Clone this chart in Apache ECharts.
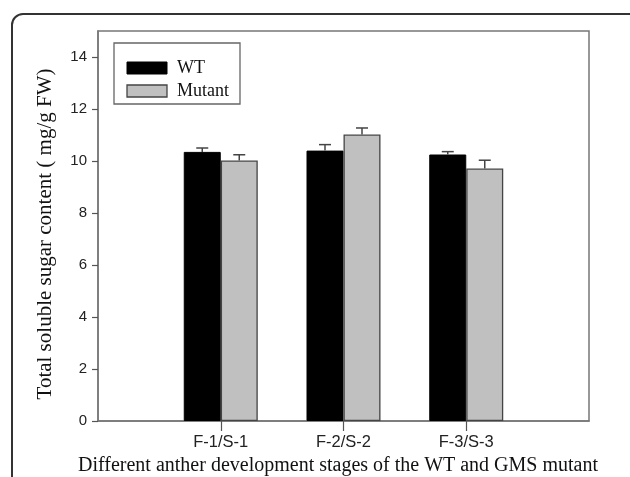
<!DOCTYPE html>
<html><head><meta charset="utf-8">
<script src="https://cdn.jsdelivr.net/npm/echarts@6/dist/echarts.min.js"></script>
<style>html,body{margin:0;padding:0;background:#fff}#c{width:630px;height:477px}</style>
</head><body><div id="c"></div>
<script>
var categories = ['', 'F-1/S-1', 'F-2/S-2', 'F-3/S-3', ''];
var wtValues = ['-', 10.35, 10.40, 10.25, '-'];
var wtErrors = [0, 0.15, 0.23, 0.11, 0];
var mutantValues = ['-', 10.02, 11.02, 9.71, '-'];
var mutantErrors = [0, 0.22, 0.25, 0.32, 0];
var yTickValues = [0, 2, 4, 6, 8, 10, 12, 14];

var chart = echarts.init(document.getElementById('c'));
var BW = 37;
function errSeries(vals, errs, offset) {
  var data = [];
  for (var i = 0; i < vals.length; i++) {
    if (vals[i] !== '-') data.push([i, vals[i], vals[i] + errs[i]]);
  }
  return {
    type: 'custom', z: 5, silent: true,
    renderItem: function (params, api) {
      var p0 = api.coord([api.value(0), api.value(1)]);
      var p1 = api.coord([api.value(0), api.value(2)]);
      var x = p0[0] + offset;
      return { type: 'group', children: [
        { type: 'line', shape: { x1: x, y1: p0[1], x2: x, y2: p1[1] }, style: { stroke: '#444', lineWidth: 1.5 } },
        { type: 'line', shape: { x1: x - 6, y1: p1[1], x2: x + 6, y2: p1[1] }, style: { stroke: '#444', lineWidth: 1.5 } }
      ]};
    },
    data: data
  };
}
chart.setOption({
  animation: false,
  grid: { left: 98, right: 41, top: 31, bottom: 56, show: true, borderColor: '#777', borderWidth: 1.5, backgroundColor: 'transparent' },
  legend: { show: false },
  xAxis: {
    type: 'category', data: categories, boundaryGap: false,
    axisLine: { lineStyle: { color: '#777', width: 1.5 } },
    axisTick: { length: 10, lineStyle: { color: '#555', width: 1.2 }, interval: function (i, v) { return v !== ''; } },
    axisLabel: { color: '#222', fontFamily: 'Liberation Sans', fontSize: 16.5, margin: 13, interval: 0 },
    splitLine: { show: false }
  },
  yAxis: {
    type: 'value', min: 0, max: 15,
    axisLine: { show: true, lineStyle: { color: '#777', width: 1.5 } },
    axisTick: { show: true, length: 6, lineStyle: { color: '#555', width: 1.2 }, customValues: yTickValues },
    axisLabel: { color: '#222', fontFamily: 'Liberation Sans', fontSize: 15, margin: 11, customValues: yTickValues },
    splitLine: { show: false }
  },
  series: [
    { name: 'WT', type: 'bar', data: wtValues, barWidth: BW, barGap: '0%', itemStyle: { color: '#000', borderColor: '#000', borderWidth: 1 } },
    { name: 'Mutant', type: 'bar', data: mutantValues, barWidth: BW, barGap: '0%', itemStyle: { color: '#c0c0c0', borderColor: '#444', borderWidth: 1.3 } },
    errSeries(wtValues, wtErrors, -BW / 2),
    errSeries(mutantValues, mutantErrors, BW / 2)
  ],
  graphic: [
    { type: 'rect', shape: { x: 12, y: 14, width: 640, height: 500, r: 11 }, style: { fill: 'none', stroke: '#333', lineWidth: 2 }, silent: true },
    { type: 'rect', shape: { x: 114, y: 43, width: 126, height: 61 }, style: { fill: '#fff', stroke: '#666', lineWidth: 1.3 }, z: 10 },
    { type: 'rect', shape: { x: 127, y: 62, width: 40, height: 12 }, style: { fill: '#000', stroke: '#000', lineWidth: 1 }, z: 11 },
    { type: 'rect', shape: { x: 127, y: 85, width: 40, height: 12 }, style: { fill: '#c0c0c0', stroke: '#444', lineWidth: 1.3 }, z: 11 },
    { type: 'text', x: 177, y: 68, style: { text: 'WT', font: '18px "Liberation Serif"', fill: '#111', verticalAlign: 'middle' }, z: 11 },
    { type: 'text', x: 177, y: 91, style: { text: 'Mutant', font: '18px "Liberation Serif"', fill: '#111', verticalAlign: 'middle' }, z: 11 },
    { type: 'text', x: 45, y: 234, rotation: Math.PI / 2, style: { text: 'Total soluble sugar content ( mg/g FW)', font: '21px "Liberation Serif"', fill: '#111', align: 'center', verticalAlign: 'middle' } },
    { type: 'text', x: 338, y: 466, style: { text: 'Different anther development stages of the WT and GMS mutant', font: '20px "Liberation Serif"', fill: '#111', align: 'center', verticalAlign: 'middle' } }
  ]
});
</script></body></html>
